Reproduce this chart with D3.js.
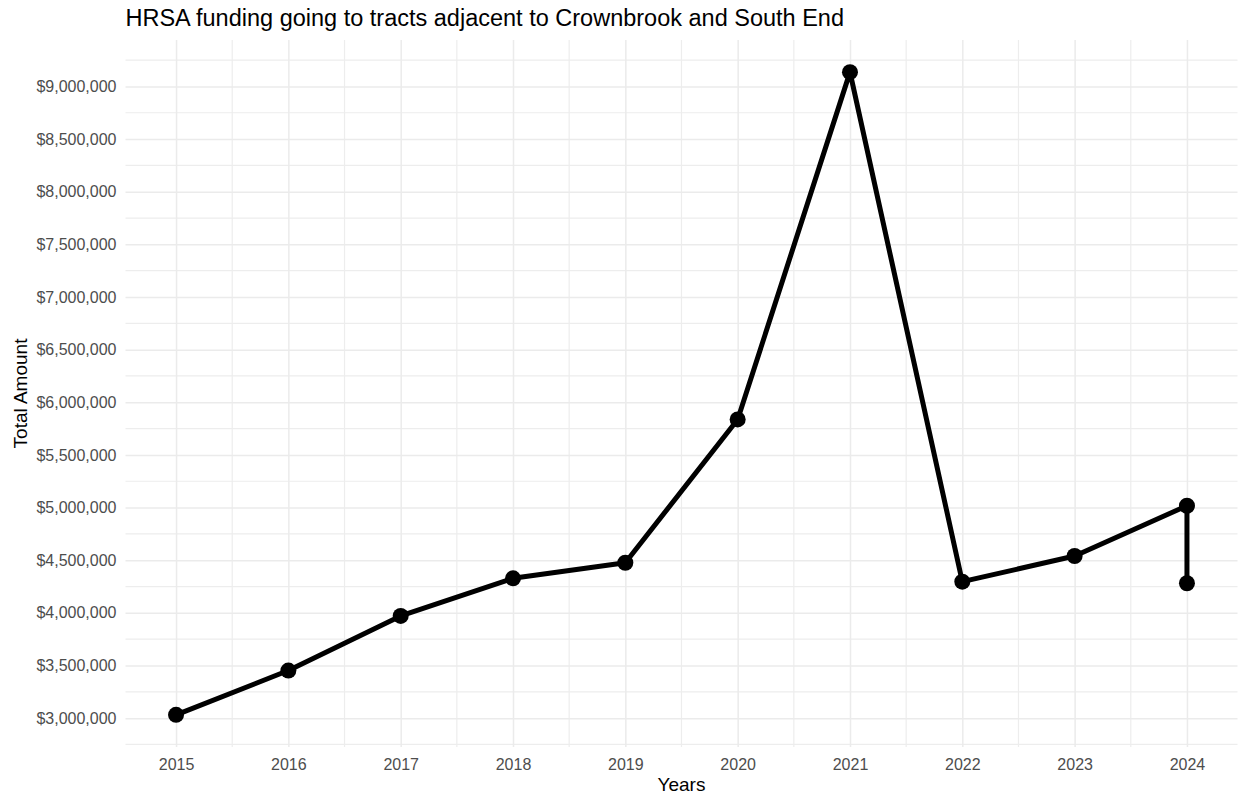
<!DOCTYPE html>
<html>
<head>
<meta charset="utf-8">
<script src="https://cdn.jsdelivr.net/npm/d3@7"></script>
<style>
  body { margin: 0; background: #fff; }
  svg { display: block; font-family: "Liberation Sans", Arial, sans-serif; }
</style>
</head>
<body>
<div id="chart"></div>
<script>
// values (2024 has two rows)
var years = [2015, 2016, 2017, 2018, 2019, 2020, 2021, 2022, 2023, 2024, 2024];
var amounts = [3031000, 3452000, 3971000, 4328000, 4476000, 5837000, 9136000, 4296000, 4540000, 5017000, 4281000];
var yearTicks = [2015, 2016, 2017, 2018, 2019, 2020, 2021, 2022, 2023, 2024];
var amountTicks = [3000000, 3500000, 4000000, 4500000, 5000000, 5500000, 6000000, 6500000, 7000000, 7500000, 8000000, 8500000, 9000000];

(function () {
  var width = 1238, height = 796;
  var padL = 125.5, padR = 1237.5, padT = 40, padB = 747;

  var data = years.map(function (y, i) { return { year: y, amount: amounts[i] }; });

  // ggplot style 5% expansion
  var xr = d3.extent(years), xpad = (xr[1] - xr[0]) * 0.05;
  var yr = d3.extent(amounts), ypad = (yr[1] - yr[0]) * 0.05;

  var x = d3.scaleLinear().domain([xr[0] - xpad, xr[1] + xpad]).range([padL, padR]);
  var y = d3.scaleLinear().domain([yr[0] - ypad, yr[1] + ypad]).range([padB, padT]);

  var svg = d3.select("#chart").append("svg")
    .attr("width", width)
    .attr("height", height);

  // minor grid (midpoints between major ticks)
  var xMinor = [];
  for (var i = 0; i <= yearTicks.length; i++) xMinor.push(yearTicks[0] - 0.5 + i);
  var yMinor = [];
  for (var j = 0; j <= amountTicks.length; j++) yMinor.push(amountTicks[0] - 250000 + j * 500000);
  xMinor = xMinor.filter(function (v) { return x(v) >= padL && x(v) <= padR; });
  yMinor = yMinor.filter(function (v) { return y(v) >= padT - 1 && y(v) <= padB + 1; });

  var grid = svg.append("g");
  grid.selectAll(".vminor").data(xMinor).enter().append("line")
    .attr("x1", function (d) { return x(d); }).attr("x2", function (d) { return x(d); })
    .attr("y1", padT).attr("y2", padB)
    .attr("stroke", "#EDEDED").attr("stroke-width", 1.2);
  grid.selectAll(".hminor").data(yMinor).enter().append("line")
    .attr("y1", function (d) { return y(d); }).attr("y2", function (d) { return y(d); })
    .attr("x1", padL).attr("x2", padR)
    .attr("stroke", "#EDEDED").attr("stroke-width", 1.2);

  // major grid via axes
  svg.append("g")
    .attr("transform", "translate(0," + padB + ")")
    .call(d3.axisBottom(x).tickValues(yearTicks).tickFormat(d3.format("d")).tickSize(-(padB - padT)).tickPadding(12))
    .call(function (g) {
      g.select(".domain").remove();
      g.selectAll(".tick line").attr("stroke", "#EBEBEB").attr("stroke-width", 1.5);
      g.selectAll(".tick text").attr("fill", "#4D4D4D").attr("font-size", "16px")
        .attr("font-family", "Liberation Sans, Arial, sans-serif");
    });

  svg.append("g")
    .attr("transform", "translate(" + padL + ",0)")
    .call(d3.axisLeft(y).tickValues(amountTicks).tickFormat(function (d) { return "$" + d3.format(",")(d); })
      .tickSize(-(padR - padL)).tickPadding(9))
    .call(function (g) {
      g.select(".domain").remove();
      g.selectAll(".tick line").attr("stroke", "#EBEBEB").attr("stroke-width", 1.5);
      g.selectAll(".tick text").attr("fill", "#4D4D4D").attr("font-size", "16px")
        .attr("font-family", "Liberation Sans, Arial, sans-serif");
    });

  // line + points
  var line = d3.line()
    .x(function (d) { return x(d.year); })
    .y(function (d) { return y(d.amount); });

  svg.append("path")
    .datum(data)
    .attr("d", line)
    .attr("fill", "none")
    .attr("stroke", "#000")
    .attr("stroke-width", 5)
    .attr("stroke-linejoin", "round");

  svg.selectAll(".pt").data(data).enter().append("circle")
    .attr("cx", function (d) { return x(d.year); })
    .attr("cy", function (d) { return y(d.amount); })
    .attr("r", 8)
    .attr("fill", "#000");

  // titles
  svg.append("text")
    .attr("x", padL)
    .attr("y", 26)
    .attr("font-size", "23.5px")
    .attr("fill", "#000")
    .text("HRSA funding going to tracts adjacent to Crownbrook and South End");

  svg.append("text")
    .attr("x", (padL + padR) / 2)
    .attr("y", 791)
    .attr("text-anchor", "middle")
    .attr("font-size", "19px")
    .attr("fill", "#000")
    .text("Years");

  svg.append("text")
    .attr("transform", "translate(27," + (padT + padB) / 2 + ") rotate(-90)")
    .attr("text-anchor", "middle")
    .attr("font-size", "19px")
    .attr("fill", "#000")
    .text("Total Amount");
})();
</script>
</body>
</html>
